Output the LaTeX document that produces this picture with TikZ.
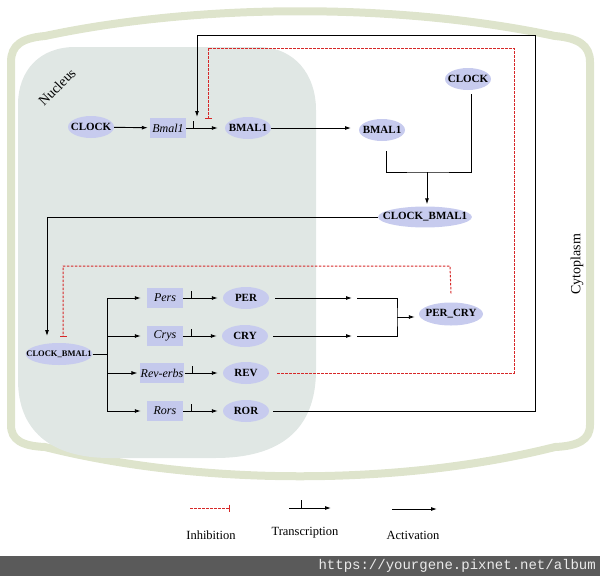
\documentclass[tikz,border=0pt]{standalone}
\usepackage{fontspec}
\setmainfont{Liberation Serif}
\setmonofont{Liberation Mono}
\usepackage{tikz}
\usetikzlibrary{arrows.meta,shapes.geometric}
\definecolor{cellband}{RGB}{222,228,204}
\definecolor{nucfill}{RGB}{224,231,228}
\definecolor{protfill}{RGB}{199,203,238}
\definecolor{genefill}{RGB}{196,201,236}
\definecolor{inhred}{RGB}{214,40,40}
\definecolor{barfill}{RGB}{90,90,90}

\begin{document}
\begin{tikzpicture}[
  x=1pt,y=-1pt,
  prot/.style={ellipse,fill=protfill,minimum width=46pt,minimum height=22pt,
               inner xsep=-4pt,inner ysep=3pt,font=\bfseries\fontsize{11}{12}\selectfont},
  gene/.style={rectangle,fill=genefill,minimum width=36pt,minimum height=20pt,
               inner sep=1pt,font=\itshape\fontsize{12}{13}\selectfont},
  flow/.style={-{Latex[length=6pt,width=4pt]},line width=0.9pt},
  link/.style={line width=0.9pt},
  inhib/.style={-{Bar[width=7pt,line width=1pt]},dash pattern=on 2.5pt off 1.5pt,
                inhred,line width=1pt},
  tickmark/.style={line width=0.9pt},
  legendtext/.style={font=\fontsize{12.5}{14}\selectfont}
]
\useasboundingbox (0,0) rectangle (600,576);

\draw[cellband,line width=8pt] (11,240) -- (11,62) .. controls (11,45) and (22,38) .. (45,36)
  .. controls (200,3) and (400,3) .. (555,36) .. controls (578,38) and (590,45) .. (590,62)
  -- (590,425) .. controls (590,440) and (578,446) .. (555,447)
  .. controls (400,486) and (200,486) .. (45,447) .. controls (22,446) and (11,440) .. (11,425) -- cycle;
\fill[nucfill] (18,105) .. controls (18,70) and (40,47) .. (75,47) -- (258,47)
  .. controls (295,47) and (316,75) .. (316,110) -- (316,370)
  .. controls (316,430) and (280,458) .. (215,458) -- (110,458)
  .. controls (50,458) and (18,430) .. (18,380) -- cycle;

\node[font=\fontsize{14}{16}\selectfont,rotate=45] (nuclab) at (57,87) {Nucleus};
\node[font=\fontsize{14}{16}\selectfont,rotate=90] (cytolab) at (577,264) {Cytoplasm};

\node[prot] (clockn) at (91,127) {CLOCK};
\node[gene] (bmalg) at (168,128) {Bmal1};
\node[prot] (bmaln) at (248,128) {BMAL1};
\node[prot] (bmalc) at (382,130) {BMAL1};
\node[prot] (clockc) at (468,79) {CLOCK};
\node[prot,inner xsep=-9pt,minimum height=19pt] (cbc) at (425,217) {CLOCK\_BMAL1};
\node[prot,font=\bfseries\fontsize{8.5}{10}\selectfont,inner xsep=-9pt] (cbn) at (59,354) {CLOCK\_BMAL1};
\node[gene] (pers) at (165,298) {Pers};
\node[gene] (crys) at (165,336) {Crys};
\node[gene] (reverbs) at (162,373) {Rev-erbs};
\node[gene] (rors) at (165,411) {Rors};
\node[prot] (per) at (246,298) {PER};
\node[prot] (cry) at (245,336) {CRY};
\node[prot] (rev) at (246,373) {REV};
\node[prot] (ror) at (246,411) {ROR};
\node[prot,minimum width=64pt,minimum height=23pt] (percry) at (451,314) {PER\_CRY};

\draw[flow,shorten >=2pt] (clockn) -- (bmalg);
\draw[flow,shorten >=7pt] (bmalg) -- (bmaln);
\draw[tickmark] ([xshift=7pt]bmalg.east) -- ++(0,-7);

\coordinate (fbtr) at (535,35);
\coordinate (fbend) at (197,117);
\draw[flow,shorten <=4pt] (ror) -| (fbtr) -| (fbend);
\coordinate (ihtr) at (514,48);
\coordinate (ihend) at (208,119);
\draw[inhib] ([xshift=8pt]rev.east) -| (ihtr) -| (ihend);

\coordinate (bmalin) at (351,128);
\draw[flow] (bmaln) -- (bmalin);
\coordinate (mg) at (427,172);
\draw[link] ([shift={(4,10)}]bmalc.south) |- (mg) -| ([shift={(3,4)}]clockc.south);
\draw[flow,shorten >=2pt] (mg) -- (mg |- cbc.north);

\coordinate (cbin) at (47,336);
\draw[flow] (cbc) -| (cbin);
\coordinate (pcup) at (450,266);
\coordinate (pcend) at (63,337);
\draw[inhib] ([yshift=9pt]percry.north) -- (pcup) -| (pcend);

\coordinate (brm) at (107,354);
\coordinate (brt) at (107,298);
\coordinate (brb) at (107,411);
\draw[link] (cbn) -- (brm);
\draw[link] (brt) -- (brb);
\draw[flow,shorten >=6pt] (brt) -- (pers);
\draw[flow,shorten >=6pt] (crys -| brt) -- (crys);
\draw[flow,shorten >=2pt] (reverbs -| brt) -- (reverbs);
\draw[flow,shorten >=6pt] (brb) -- (rors);

\foreach \g/\p in {pers/per,crys/cry,reverbs/rev,rors/ror}{
  \draw[flow,shorten >=5pt] (\g) -- (\p);
  \draw[tickmark] ([xshift=8pt]\g.east) -- ++(0,-7);
}

\coordinate (perin) at (352,298);
\coordinate (perout) at (357,298);
\coordinate (cryin) at (352,336);
\coordinate (cryout) at (357,336);
\coordinate (jn) at (397,317);
\draw[flow,shorten <=6pt] (per) -- (perin);
\draw[flow,shorten <=5pt] (cry) -- (cryin);
\draw[link] (perout) -| (jn) |- (cryout);
\draw[flow,shorten >=4pt] (jn) -- (jn -| percry.west);

\coordinate (lia) at (190,508);
\coordinate (lib) at (230,508);
\draw[inhib] (lia) -- (lib);
\node[legendtext] (linh) at (211,535) {Inhibition};
\coordinate (lta) at (289,508);
\coordinate (ltb) at (331,508);
\draw[flow] (lta) -- (ltb);
\draw[tickmark] ([xshift=12pt]lta) -- ++(0,-8);
\node[legendtext] (ltr) at (305,533) {Transcription};
\coordinate (laa) at (392,509);
\coordinate (lab) at (437,509);
\draw[flow] (laa) -- (lab);
\node[legendtext] (lact) at (413,535) {Activation};

\fill[barfill] (0,556) rectangle (600,576);
\node[anchor=east,font=\ttfamily\fontsize{14}{16}\selectfont,text=white!92!black,inner sep=0pt]
  (wm) at (596,566) {https://yourgene.pixnet.net/album};
\end{tikzpicture}
\end{document}
